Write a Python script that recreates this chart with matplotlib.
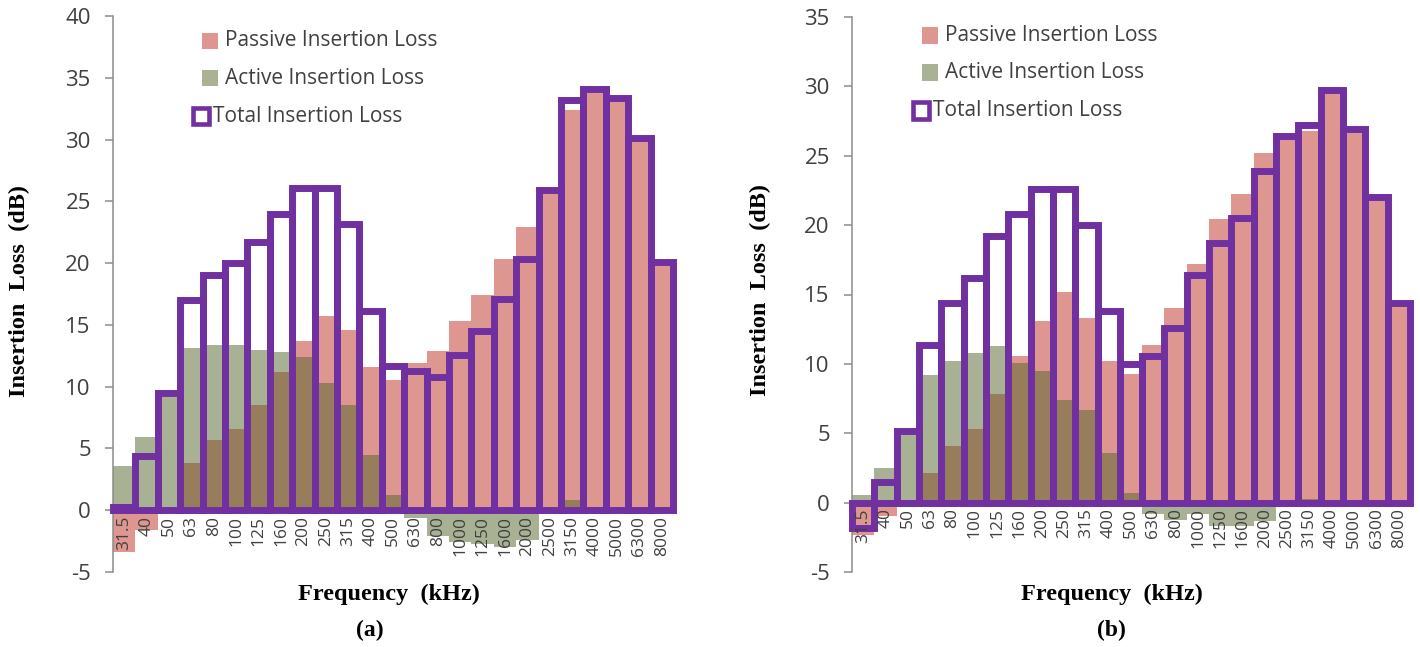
import matplotlib
matplotlib.use("Agg")
import matplotlib.pyplot as plt
from matplotlib.patches import Rectangle
import numpy as np

# Third-octave band centre frequencies
freq_labels = ['31.5', '40', '50', '63', '80', '100', '125', '160', '200', '250',
               '315', '400', '500', '630', '800', '1000', '1250', '1600', '2000',
               '2500', '3150', '4000', '5000', '6300', '8000']

# Panel (a) insertion loss, dB
passive_a = [-3.4, -1.6, 0.2, 3.85, 5.7, 6.6, 8.5, 11.15, 13.7, 15.7, 14.6, 11.6, 10.5,
             11.9, 12.9, 15.3, 17.4, 20.3, 22.9, 26.0, 32.4, 33.8, 33.4, 30.1, 20.1]
active_a = [3.6, 5.9, 9.2, 13.1, 13.4, 13.4, 13.0, 12.8, 12.4, 10.3, 8.5, 4.5, 1.2,
            -0.6, -2.1, -2.6, -2.7, -3.0, -2.4, 0.0, 0.8, 0.3, 0.0, 0.0, 0.0]
total_a = [0.3, 4.4, 9.45, 17.0, 19.0, 20.0, 21.7, 24.0, 26.1, 26.1, 23.2, 16.1, 11.7,
           11.25, 10.8, 12.6, 14.5, 17.1, 20.3, 25.9, 33.2, 34.1, 33.4, 30.1, 20.1]

# Panel (b) insertion loss, dB
passive_b = [-2.3, -0.95, 0.2, 2.15, 4.1, 5.3, 7.85, 10.6, 13.1, 15.2, 13.3, 10.2, 9.3,
             11.4, 14.0, 17.2, 20.4, 22.2, 25.2, 26.3, 26.8, 29.6, 26.8, 21.9, 14.3]
active_b = [0.55, 2.5, 4.85, 9.2, 10.2, 10.8, 11.3, 10.1, 9.5, 7.4, 6.65, 3.6, 0.7,
            -0.8, -1.25, -0.8, -1.7, -1.65, -1.3, 0.0, 0.3, 0.1, 0.0, 0.0, 0.0]
total_b = [-1.8, 1.5, 5.15, 11.4, 14.4, 16.2, 19.2, 20.8, 22.6, 22.6, 20.0, 13.8, 10.0,
           10.6, 12.6, 16.4, 18.7, 20.5, 23.9, 26.4, 27.2, 29.75, 26.9, 22.0, 14.4]

series_names = ['Passive Insertion Loss', 'Active Insertion Loss', 'Total Insertion Loss']

PASSIVE = '#DE9690'
ACTIVE = '#536529'
ACTIVE_ALPHA = 0.5
ACTIVE_SWATCH = '#A9B294'
PURPLE = '#7030A0'
GREY_TXT = '#404040'
AXIS_GREY = '#8C8C8C'

W, H = 1420, 647
fig = plt.figure(figsize=(W / 100, H / 100), dpi=100)
fig.patch.set_facecolor('white')


def px_box(x0, y_top, x1, y_bot):
    """Pixel box (origin top-left) -> figure-fraction [l, b, w, h]."""
    return [x0 / W, 1 - y_bot / H, (x1 - x0) / W, (y_bot - y_top) / H]


def draw_panel(rect, passive, active, total, ymax, legend_xy, ylabel_xy, xlabel_xy, tag, tag_xy):
    ax = fig.add_axes(rect)
    # place the category axis on the zero line before styling its ticks
    for s in ('top', 'right'):
        ax.spines[s].set_visible(False)
    ax.spines['bottom'].set_position(('data', 0))
    ax.spines['bottom'].set_color('#B9A3CF')
    ax.spines['bottom'].set_linewidth(1.0)
    ax.spines['left'].set_color(AXIS_GREY)
    ax.spines['left'].set_linewidth(1.1)

    x = np.arange(len(freq_labels))
    ax.bar(x, passive, width=1.0, color=PASSIVE, linewidth=0, zorder=1)
    ax.bar(x, active, width=1.0, color=ACTIVE, alpha=ACTIVE_ALPHA, linewidth=0, zorder=2)
    ax.bar(x, total, width=1.0, fill=False, edgecolor=PURPLE, linewidth=5,
           joinstyle='miter', zorder=3, clip_on=False)

    ax.set_xlim(-0.5, len(freq_labels) - 0.5)
    ax.set_ylim(-5, ymax)
    yt = np.arange(-5, ymax + 1, 5)
    ax.set_yticks(yt)
    ax.set_yticklabels([f'{v:d}' for v in yt], fontfamily='Open Sans',
                       fontsize=16, color=GREY_TXT)
    ax.tick_params(axis='y', length=6, width=1.1, color=AXIS_GREY, pad=10)

    ax.set_xticks(x)
    ax.set_xticklabels(freq_labels, fontfamily='Open Sans', fontsize=12.5, color='#404040')
    ax.tick_params(axis='x', length=0, pad=4, labelrotation=90)

    ax.set_axisbelow(False)
    ax.xaxis.set_zorder(5)
    ax.patch.set_alpha(0)

    # legend
    lx, ly = legend_xy
    rows = [ly, ly + 37, ly + 75]
    for i, fc in enumerate([PASSIVE, ACTIVE_SWATCH]):
        r = Rectangle((lx / W, 1 - (rows[i] + 8) / H), 16 / W, 16 / H,
                      transform=fig.transFigure, facecolor=fc, edgecolor='none')
        fig.add_artist(r)
        fig.text((lx + 23) / W, 1 - rows[i] / H, series_names[i], fontfamily='Open Sans',
                 fontsize=15, color=GREY_TXT, va='center', ha='left')
    r = Rectangle(((lx - 9) / W, 1 - (rows[2] + 8) / H), 16 / W, 16 / H,
                  transform=fig.transFigure, facecolor='white', edgecolor=PURPLE,
                  linewidth=3.3, joinstyle='miter')
    fig.add_artist(r)
    fig.text((lx + 11) / W, 1 - rows[2] / H, series_names[2], fontfamily='Open Sans',
             fontsize=15, color=GREY_TXT, va='center', ha='left')

    fig.text(ylabel_xy[0] / W, 1 - ylabel_xy[1] / H, 'Insertion  Loss  (dB)',
             rotation=90, fontfamily='Liberation Serif', fontweight='bold',
             fontsize=17.5, ha='center', va='center', color='black')
    fig.text(xlabel_xy[0] / W, 1 - xlabel_xy[1] / H, 'Frequency  (kHz)',
             fontfamily='Liberation Serif', fontweight='bold',
             fontsize=17.5, ha='center', va='center', color='black')
    fig.text(tag_xy[0] / W, 1 - tag_xy[1] / H, tag,
             fontfamily='Liberation Serif', fontweight='bold',
             fontsize=17, ha='center', va='center', color='black')
    return ax


draw_panel(px_box(113, 16, 673, 572), passive_a, active_a, total_a, 40,
           legend_xy=(202, 41), ylabel_xy=(19, 291), xlabel_xy=(389, 594),
           tag='(a)', tag_xy=(370, 630))
draw_panel(px_box(852, 16.7, 1410, 572.3), passive_b, active_b, total_b, 35,
           legend_xy=(922, 35.5), ylabel_xy=(760, 290), xlabel_xy=(1112, 594),
           tag='(b)', tag_xy=(1111, 630))

fig.savefig('out.png', dpi=100, facecolor='white')
